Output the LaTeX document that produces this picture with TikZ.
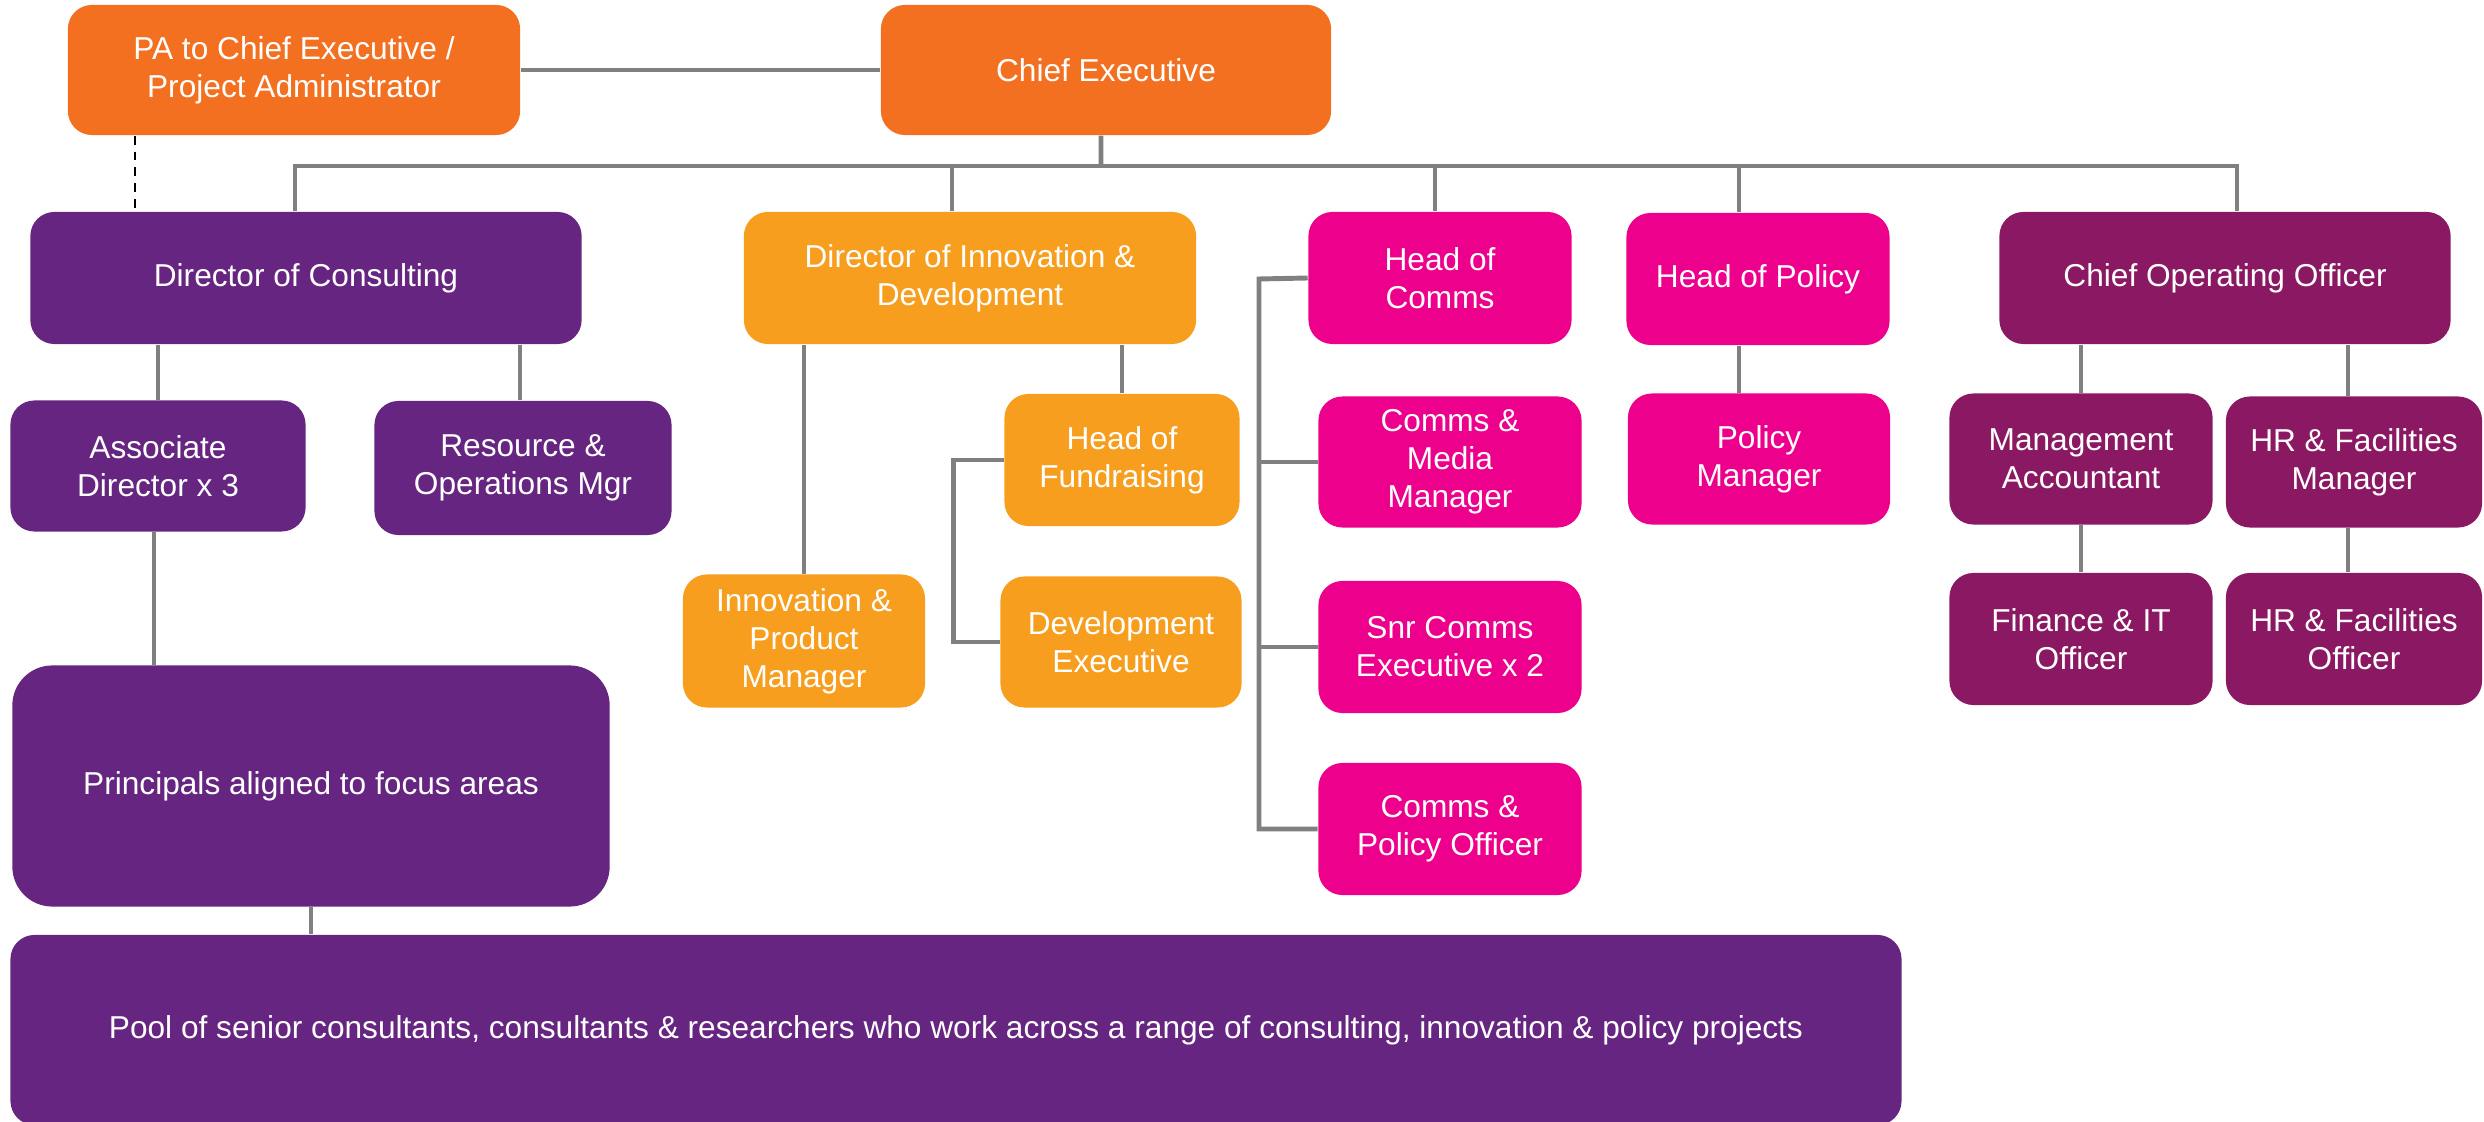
\documentclass[tikz,border=0pt]{standalone}
\usepackage{fontspec}
\setmainfont{Liberation Sans}
\usetikzlibrary{positioning}
\definecolor{ceorange}{HTML}{F37021}
\definecolor{innorange}{HTML}{F79E1E}
\definecolor{conspurple}{HTML}{652580}
\definecolor{commspink}{HTML}{EC008C}
\definecolor{opsplum}{HTML}{8B1862}
\definecolor{linegrey}{HTML}{808080}

\begin{document}
\begin{tikzpicture}[x=0.01cm, y=-0.01cm]
	\tikzstyle{box} = [rounded corners=0.24cm, text=white, align=center, inner sep=0pt, font=\fontsize{9}{10.8}\selectfont]
	\tikzstyle{link} = [draw=linegrey, line width=1.4pt]

	\useasboundingbox (0,0) rectangle (2484,1122);

	% top row
	\node[box, fill=ceorange, minimum width=4.52cm, minimum height=1.3cm] (pa) at (294,70) {PA to Chief Executive /\\Project Administrator};
	\node[box, fill=ceorange, minimum width=4.5cm, minimum height=1.3cm] (ce) at (1106,70) {Chief Executive};

	% directors and heads
	\node[box, fill=conspurple, minimum width=5.51cm, minimum height=1.32cm] (dcons) at (306,278) {Director of Consulting};
	\node[box, fill=innorange, minimum width=4.52cm, minimum height=1.32cm] (dinno) at (970,278) {Director of Innovation \&\\Development};
	\node[box, fill=commspink, minimum width=2.63cm, minimum height=1.32cm] (hcomms) at (1440,278) {Head of\\Comms};
	\node[box, fill=commspink, minimum width=2.63cm, minimum height=1.32cm] (hpol) at (1758,279) {Head of Policy};
	\node[box, fill=opsplum, minimum width=4.51cm, minimum height=1.32cm] (coo) at (2225,278) {Chief Operating Officer};

	% consulting
	\node[box, fill=conspurple, minimum width=2.95cm, minimum height=1.31cm] (assoc) at (158,466) {Associate\\Director x 3};
	\node[box, fill=conspurple, minimum width=2.97cm, minimum height=1.34cm] (resops) at (523,468) {Resource \&\\Operations Mgr};
	\node[box, fill=conspurple, rounded corners=0.4cm, minimum width=5.97cm, minimum height=2.41cm] (princ) at (311,786) {Principals aligned to focus areas};
	\node[box, fill=conspurple, minimum width=18.9cm, minimum height=1.9cm] (pool) at (956,1030) {Pool of senior consultants, consultants \& researchers who work across a range of consulting, innovation \& policy projects};

	% innovation
	\node[box, fill=innorange, minimum width=2.35cm, minimum height=1.32cm] (hfund) at (1122,460) {Head of\\Fundraising};
	\node[box, fill=innorange, minimum width=2.42cm, minimum height=1.33cm] (ipm) at (804,641) {Innovation \&\\Product\\Manager};
	\node[box, fill=innorange, minimum width=2.41cm, minimum height=1.31cm] (devex) at (1121,642) {Development\\Executive};

	% comms and policy
	\node[box, fill=commspink, minimum width=2.63cm, minimum height=1.31cm] (cmm) at (1450,462) {Comms \&\\Media\\Manager};
	\node[box, fill=commspink, minimum width=2.63cm, minimum height=1.32cm] (snr) at (1450,647) {Snr Comms\\Executive x 2};
	\node[box, fill=commspink, minimum width=2.63cm, minimum height=1.32cm] (cpo) at (1450,829) {Comms \&\\Policy Officer};
	\node[box, fill=commspink, minimum width=2.62cm, minimum height=1.31cm] (pman) at (1759,459) {Policy\\Manager};

	% operations
	\node[box, fill=opsplum, minimum width=2.63cm, minimum height=1.31cm] (mac) at (2081,459) {Management\\Accountant};
	\node[box, fill=opsplum, minimum width=2.56cm, minimum height=1.31cm] (hrm) at (2354,462) {HR \& Facilities\\Manager};
	\node[box, fill=opsplum, minimum width=2.63cm, minimum height=1.32cm] (fin) at (2081,639) {Finance \& IT\\Officer};
	\node[box, fill=opsplum, minimum width=2.56cm, minimum height=1.32cm] (hro) at (2354,639) {HR \& Facilities\\Officer};

	% connectors
	\coordinate (bus) at (1101,166);
	\coordinate (commbar) at (1259,279);
	\path[link] (pa.east) -- (ce.west);
	\path[link] ([xshift=-0.05cm]ce.south) -- (bus);
	\path[link] ([xshift=-0.11cm]dcons.north) -- ([xshift=-0.11cm]dcons.north |- bus) -- ([xshift=0.12cm]coo.north |- bus) -- ([xshift=0.12cm]coo.north);
	\path[link] ([xshift=-0.18cm]dinno.north) -- ([xshift=-0.18cm]dinno.north |- bus);
	\path[link] ([xshift=-0.05cm]hcomms.north) -- ([xshift=-0.05cm]hcomms.north |- bus);
	\path[link] ([xshift=-0.19cm]hpol.north) -- ([xshift=-0.19cm]hpol.north |- bus);
	\draw[dashed, black, thin, dash pattern=on 2.5pt off 2pt] ([xshift=-1.59cm]pa.south) coordinate (padash) -- (padash |- dcons.north);

	\path[link] (assoc.north) -- (assoc.north |- dcons.south);
	\path[link] ([xshift=-0.03cm]resops.north) -- ([xshift=-0.03cm]resops.north |- dcons.south);
	\path[link] ([xshift=-0.04cm]assoc.south) -- ([xshift=-0.04cm]assoc.south |- princ.north);
	\path[link] (princ.south) -- (princ.south |- pool.north);

	\path[link] (ipm.north) -- (ipm.north |- dinno.south);
	\path[link] (hfund.north) -- (hfund.north |- dinno.south);
	\path[link] (hfund.west) -- ++(-50,0) |- (devex.west);

	\path[link] (hcomms.west) -- (commbar) |- (cpo.west);
	\path[link] (cmm.west) -- (cmm.west -| commbar);
	\path[link] (snr.west) -- (snr.west -| commbar);
	\path[link] ([xshift=-0.2cm]pman.north) -- ([xshift=-0.2cm]pman.north |- hpol.south);

	\path[link] (mac.north) -- (mac.north |- coo.south);
	\path[link] ([xshift=-0.06cm]hrm.north) -- ([xshift=-0.06cm]hrm.north |- coo.south);
	\path[link] (fin.north) -- (mac.south);
	\path[link] ([xshift=-0.06cm]hro.north) -- ([xshift=-0.06cm]hrm.south);
\end{tikzpicture}
\end{document}
